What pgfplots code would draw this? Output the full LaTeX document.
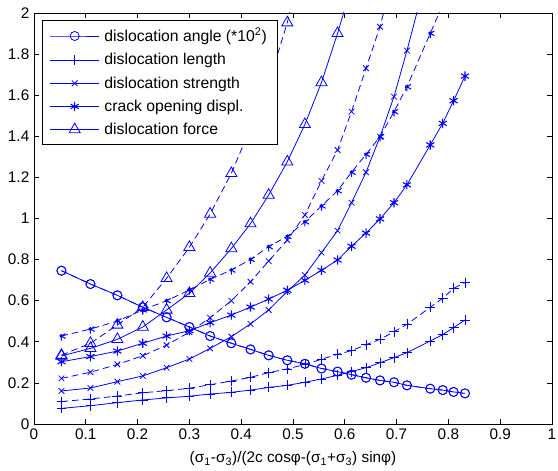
\documentclass[border=0pt]{standalone}
\usepackage{fontspec}
\setmainfont{Liberation Sans}
\usepackage{pgfplots}
\pgfplotsset{compat=1.18}
\definecolor{mblue}{RGB}{0,0,255}
\begin{document}
\begin{tikzpicture}
\path[use as bounding box] (-25.5pt,-35.25pt) rectangle (393pt,318pt);
\begin{axis}[
    scale only axis,
    width=388.5pt, height=308.25pt,
    xmin=0, xmax=1, ymin=0, ymax=2,
    xtick={0,0.1,0.2,0.3,0.4,0.5,0.6,0.7,0.8,0.9,1},
    ytick={0,0.2,0.4,0.6,0.8,1,1.2,1.4,1.6,1.8,2},
    tick align=inside,
    major tick length=3.75pt,
    tick style={black, line width=0.5pt},
    axis line style={black, line width=0.6pt},
    /pgf/number format/assume math mode=true,
    tick label style={font=\fontsize{11.5}{13}\selectfont},
    xlabel={(σ\textsubscript{1}-σ\textsubscript{3})/(2c cosφ-(σ\textsubscript{1}+σ\textsubscript{3}) sinφ)},
    xlabel style={font=\fontsize{11.5}{13}\selectfont, at={(axis description cs:0.5,0)}, anchor=base, yshift=-29pt},
    clip marker paths=true,
    every axis plot/.append style={mblue, line width=0.6pt, mark options={solid}},
    legend cell align=left,
    legend style={at={(rel axis cs:0.0155,0.983)}, anchor=north west, draw=black, fill=white,
        font=\fontsize{11.8}{13}\selectfont, row sep=3.3pt, inner xsep=5.5pt, inner ysep=4pt,
        /tikz/every odd column/.append style={column sep=1.5pt}},
    legend image code/.code={\draw[mark repeat=2,mark phase=2,#1] plot coordinates {(0cm,0cm)(0.65cm,0cm)(1.3cm,0cm)};},
]
% solid series
\addplot[mark=o, mark size=3.4pt] coordinates {
(0.053,0.746) (0.109,0.681) (0.161,0.626) (0.21,0.568) (0.256,0.519) (0.30,0.472) (0.34,0.428)
(0.381,0.393) (0.418,0.363) (0.453,0.334) (0.489,0.31) (0.523,0.293) (0.555,0.27) (0.586,0.255)
(0.613,0.24) (0.641,0.225) (0.668,0.212) (0.695,0.203) (0.72,0.188) (0.765,0.172) (0.789,0.165)
(0.81,0.156) (0.832,0.149)};
\addlegendentry{dislocation angle (*10\textsuperscript{2})}
\addplot[mark=+, mark size=3.7pt] coordinates {
(0.053,0.076) (0.109,0.089) (0.161,0.104) (0.21,0.117) (0.256,0.127) (0.30,0.135) (0.34,0.146)
(0.381,0.154) (0.418,0.165) (0.453,0.178) (0.489,0.188) (0.523,0.203) (0.555,0.219) (0.586,0.237)
(0.613,0.255) (0.641,0.274) (0.668,0.298) (0.695,0.323) (0.72,0.347) (0.765,0.404) (0.789,0.435)
(0.81,0.469) (0.832,0.506)};
\addlegendentry{dislocation length}
\addplot[mark=x, mark size=3pt] coordinates {
(0.053,0.161) (0.109,0.175) (0.161,0.206) (0.21,0.234) (0.256,0.274) (0.30,0.316) (0.34,0.368)
(0.381,0.425) (0.418,0.487) (0.453,0.555) (0.489,0.645) (0.523,0.725) (0.555,0.834) (0.586,0.941)
(0.613,1.077) (0.641,1.225) (0.668,1.398) (0.695,1.593) (0.72,1.817) (0.765,2.25)};
\addlegendentry{dislocation strength}
\addplot[mark=asterisk, mark size=3.5pt, mark options={line width=0.8pt}] coordinates {
(0.053,0.303) (0.109,0.328) (0.161,0.355) (0.21,0.393) (0.256,0.428) (0.30,0.454) (0.34,0.493)
(0.381,0.53) (0.418,0.569) (0.453,0.608) (0.489,0.651) (0.523,0.699) (0.555,0.748) (0.586,0.798)
(0.613,0.865) (0.641,0.929) (0.668,0.998) (0.695,1.077) (0.72,1.164) (0.765,1.358) (0.789,1.463)
(0.81,1.573) (0.832,1.693)};
\addlegendentry{crack opening displ.}
\addplot[mark=triangle, mark size=4.8pt] coordinates {
(0.053,0.331) (0.109,0.368) (0.161,0.412) (0.21,0.472) (0.256,0.555) (0.30,0.636) (0.34,0.735)
(0.381,0.854) (0.418,0.975) (0.453,1.114) (0.489,1.276) (0.523,1.458) (0.555,1.662) (0.586,1.901)
(0.613,2.13)};
\addlegendentry{dislocation force}
% dashed series
\addplot[forget plot, dash pattern=on 5pt off 3pt, mark=o, mark size=3.4pt] coordinates {
(0.053,0.746) (0.109,0.681) (0.161,0.626) (0.21,0.568) (0.256,0.519) (0.30,0.472) (0.34,0.428)
(0.381,0.393) (0.418,0.363) (0.453,0.334) (0.489,0.31) (0.523,0.293) (0.555,0.27) (0.586,0.255)
(0.613,0.24) (0.641,0.225) (0.668,0.212) (0.695,0.203) (0.72,0.188) (0.765,0.172) (0.789,0.165)
(0.81,0.156) (0.832,0.149)};
\addplot[forget plot, dash pattern=on 5pt off 3pt, mark=+, mark size=3.7pt] coordinates {
(0.053,0.109) (0.109,0.122) (0.161,0.136) (0.21,0.152) (0.256,0.162) (0.30,0.174) (0.34,0.191)
(0.381,0.209) (0.418,0.227) (0.453,0.25) (0.489,0.268) (0.523,0.29) (0.555,0.315) (0.586,0.339)
(0.613,0.357) (0.641,0.386) (0.668,0.412) (0.695,0.449) (0.72,0.485) (0.765,0.568) (0.789,0.612)
(0.81,0.66) (0.832,0.688)};
\addplot[forget plot, dash pattern=on 5pt off 3pt, mark=x, mark size=3pt] coordinates {
(0.053,0.222) (0.109,0.252) (0.161,0.29) (0.21,0.332) (0.256,0.384) (0.30,0.447) (0.34,0.517)
(0.381,0.60) (0.418,0.692) (0.453,0.793) (0.489,0.895) (0.523,1.017) (0.555,1.183) (0.586,1.333)
(0.613,1.52) (0.641,1.731) (0.668,1.933) (0.695,2.2)};
\addplot[forget plot, dash pattern=on 5pt off 3pt, mark=asterisk, mark size=3.5pt, mark options={line width=0.8pt}] coordinates {
(0.053,0.428) (0.109,0.462) (0.161,0.501) (0.21,0.555) (0.256,0.60) (0.30,0.652) (0.34,0.704)
(0.381,0.749) (0.418,0.801) (0.453,0.863) (0.489,0.913) (0.523,0.984) (0.555,1.061) (0.586,1.135)
(0.613,1.225) (0.641,1.312) (0.668,1.398) (0.695,1.52) (0.72,1.641) (0.765,1.901) (0.789,2.04)
(0.81,2.17)};
\addplot[forget plot, dash pattern=on 5pt off 3pt, mark=triangle, mark size=4.8pt] coordinates {
(0.053,0.335) (0.109,0.393) (0.161,0.482) (0.21,0.568) (0.256,0.709) (0.30,0.86) (0.34,1.022)
(0.381,1.22) (0.418,1.44) (0.455,1.674) (0.489,1.953) (0.523,2.3)};
\end{axis}
\end{tikzpicture}
\end{document}
